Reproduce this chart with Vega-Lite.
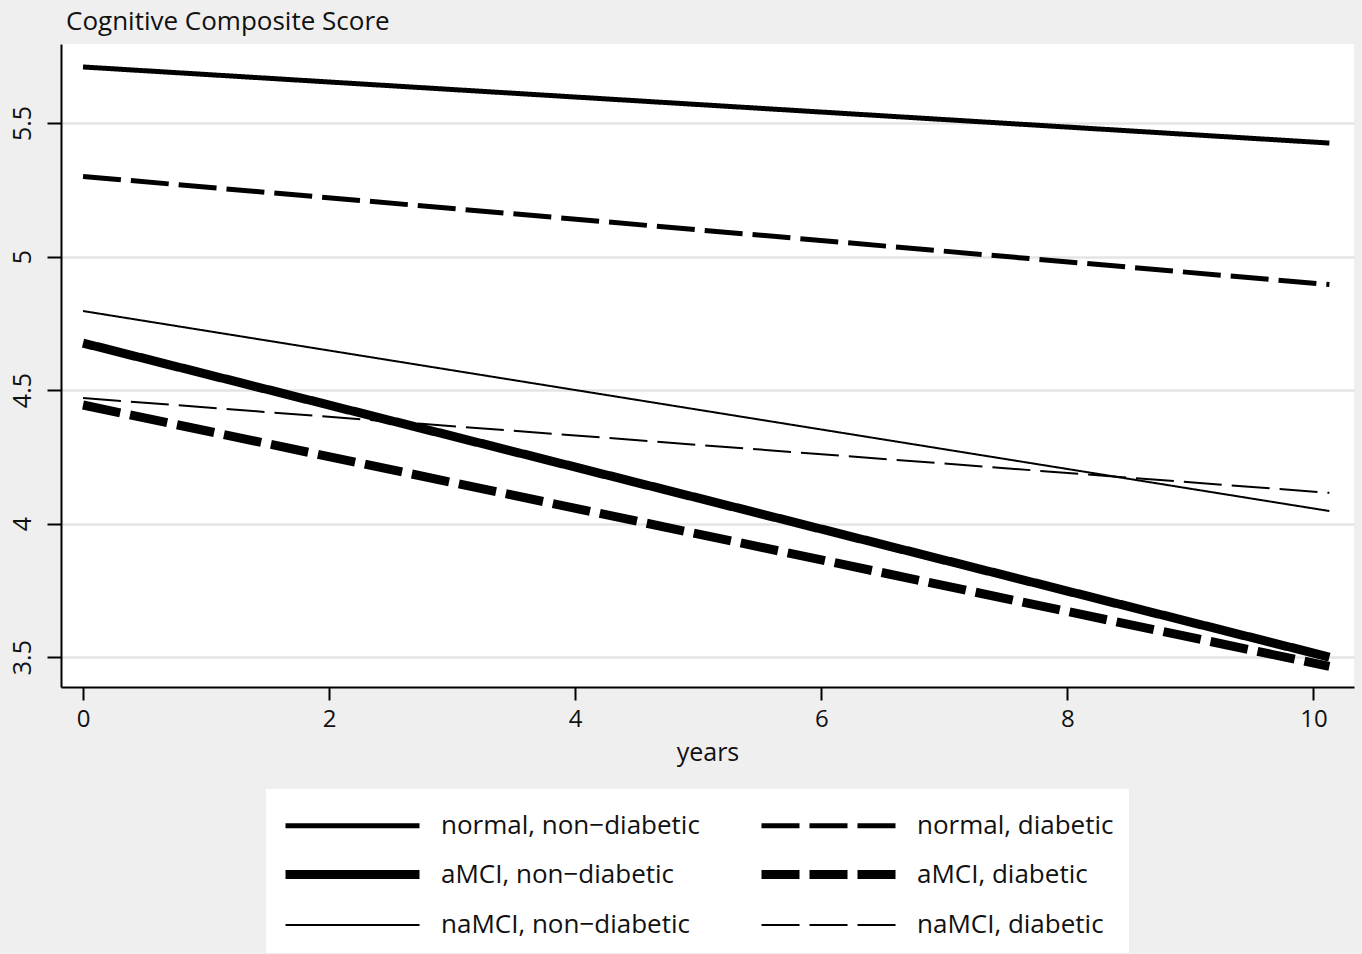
{
  "$schema": "https://vega.github.io/schema/vega-lite/v6.json",
  "width": 1293,
  "height": 643,
  "autosize": {"type": "none"},
  "padding": {"left": 61, "top": 44, "right": 8, "bottom": 267},
  "background": "#efefef",
  "title": {"text": "Cognitive Composite Score", "anchor": "start", "frame": "group", "fontSize": 26, "font": "Open Sans", "fontWeight": "normal", "color": "#111111", "offset": 9, "dx": 5},
  "config": {"view": {"fill": "white", "stroke": null}, "font": "Open Sans"},
  "data": {
    "values": [
      {"group": "normal, non−diabetic", "years": 0, "score": 5.71},
      {"group": "normal, non−diabetic", "years": 10.13, "score": 5.425},
      {"group": "normal, diabetic", "years": 0, "score": 5.30},
      {"group": "normal, diabetic", "years": 10.13, "score": 4.895},
      {"group": "aMCI, non−diabetic", "years": 0, "score": 4.676},
      {"group": "aMCI, non−diabetic", "years": 10.13, "score": 3.50},
      {"group": "aMCI, diabetic", "years": 0, "score": 4.444},
      {"group": "aMCI, diabetic", "years": 10.13, "score": 3.465},
      {"group": "naMCI, non−diabetic", "years": 0, "score": 4.796},
      {"group": "naMCI, non−diabetic", "years": 10.13, "score": 4.047},
      {"group": "naMCI, diabetic", "years": 0, "score": 4.47},
      {"group": "naMCI, diabetic", "years": 10.13, "score": 4.115}
    ]
  },
  "mark": {"type": "line", "color": "black", "strokeCap": "butt"},
  "encoding": {
    "x": {
      "field": "years", "type": "quantitative",
      "scale": {"domain": [-0.179, 10.33], "nice": false, "zero": false},
      "axis": {"values": [0, 2, 4, 6, 8, 10], "grid": false, "tickSize": 13, "tickWidth": 2, "tickColor": "black", "domainColor": "black", "domainWidth": 2, "labelFontSize": 24, "labelColor": "#111111", "labelPadding": 7, "title": "years", "titleFontSize": 25, "titleFontWeight": "normal", "titleColor": "#111111", "titlePadding": 9}
    },
    "y": {
      "field": "score", "type": "quantitative",
      "scale": {"domain": [3.388, 5.796], "nice": false, "zero": false},
      "axis": {"values": [3.5, 4, 4.5, 5, 5.5], "format": "~g", "grid": true, "gridColor": "#e4e4e4", "gridWidth": 2.5, "tickSize": 14, "tickWidth": 2, "tickColor": "black", "domainColor": "black", "domainWidth": 2, "labelFontSize": 25, "labelColor": "#111111", "labelAngle": -90, "labelAlign": "center", "labelBaseline": "bottom", "labelPadding": 12, "title": null}
    },
    "strokeDash": {
      "field": "group", "type": "nominal",
      "scale": {"domain": ["normal, non−diabetic", "aMCI, non−diabetic", "naMCI, non−diabetic", "normal, diabetic", "aMCI, diabetic", "naMCI, diabetic"],
                "range": [[1, 0], [1, 0], [1, 0], [38, 10], [38, 10], [38, 10]]},
      "legend": {"title": null, "orient": "none", "legendX": 205, "legendY": 745, "columns": 2, "symbolType": "M-1,0H6.053", "symbolSize": 1444, "symbolStrokeColor": "black", "labelFontSize": 26, "labelColor": "#111111", "labelOffset": 113, "labelLimit": 400, "rowPadding": 12, "columnPadding": 43, "padding": 15, "fillColor": "white", "strokeColor": null}
    },
    "strokeWidth": {
      "field": "group", "type": "nominal",
      "scale": {"type": "ordinal", "domain": ["normal, non−diabetic", "aMCI, non−diabetic", "naMCI, non−diabetic", "normal, diabetic", "aMCI, diabetic", "naMCI, diabetic"],
                "range": [5, 9, 2, 5, 9, 2]}
    }
  }
}
